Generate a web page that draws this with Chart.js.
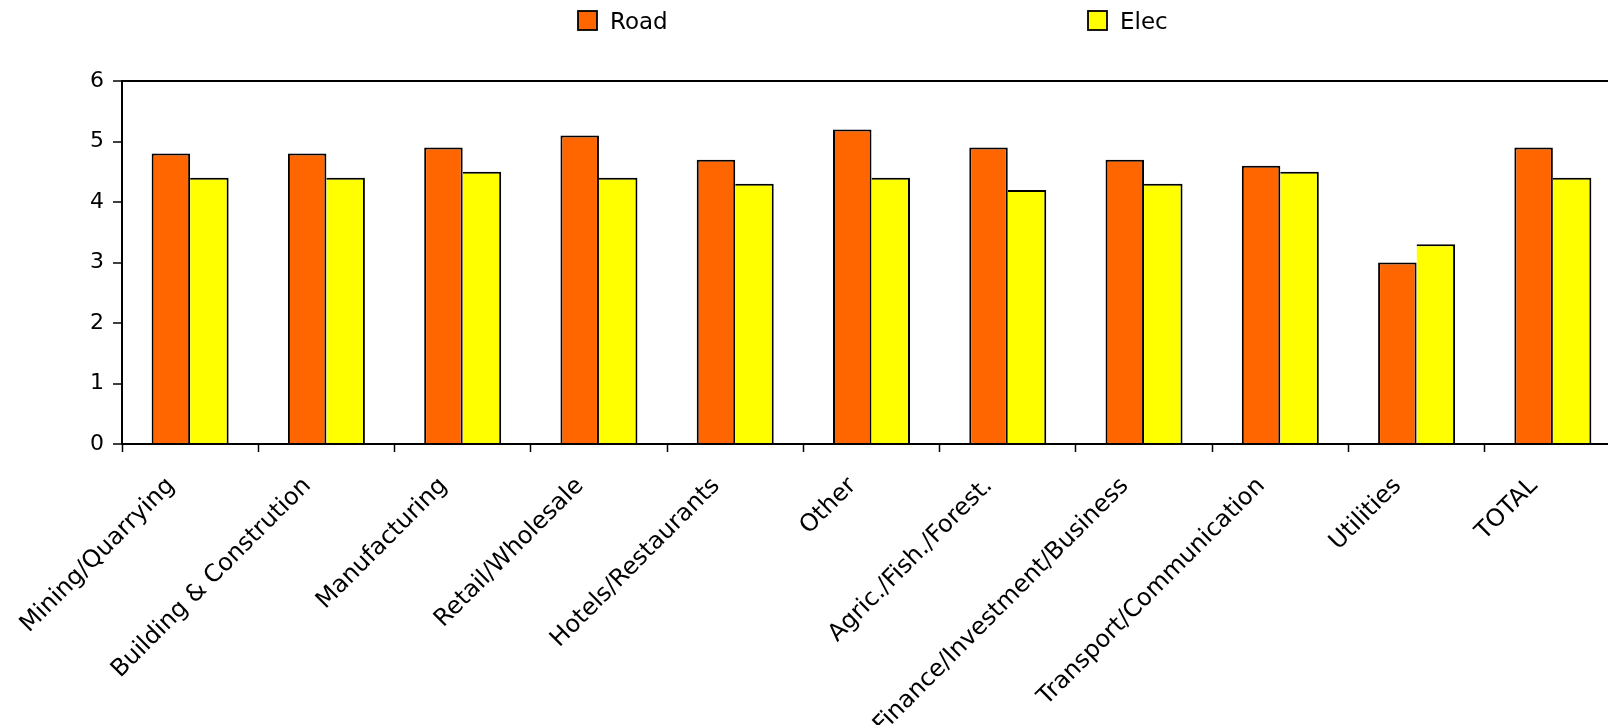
<!DOCTYPE html>
<html>
<head>
<meta charset="utf-8">
<script src="https://cdn.jsdelivr.net/npm/chart.js@4.4.1/dist/chart.umd.min.js"></script>
<style>
  html, body { margin: 0; padding: 0; background: #fff; overflow: hidden; }
  #wrap { width: 1621px; height: 725px; }
</style>
</head>
<body>
<div id="wrap"><canvas id="barChart"></canvas></div>
<script>
// Sector labels and the two series
var sectors = ["Mining/Quarrying", "Building & Constrution", "Manufacturing", "Retail/Wholesale",
    "Hotels/Restaurants", "Other", "Agric./Fish./Forest.", "Finance/Investment/Business",
    "Transport/Communication", "Utilities", "TOTAL"];
var roadData = [4.8, 4.8, 4.9, 5.1, 4.7, 5.2, 4.9, 4.7, 4.6, 3.0, 4.9];
var elecData = [4.4, 4.4, 4.5, 4.4, 4.3, 4.4, 4.2, 4.3, 4.5, 3.3, 4.4];
var yTicks = [0, 1, 2, 3, 4, 5, 6];

var fontName = "'DejaVu Sans', sans-serif";

// legend drawn by hand, items spread wide like the original
var legendPlugin = {
    id: 'wideLegend',
    afterDraw: function (chart) {
        var ctx = chart.ctx;
        var spots = [578, 1088];
        ctx.save();
        ctx.font = "23px " + fontName;
        ctx.textBaseline = "alphabetic";
        chart.data.datasets.forEach(function (ds, i) {
            var x = spots[i];
            ctx.fillStyle = ds.backgroundColor;
            ctx.fillRect(x, 11, 19, 19);
            ctx.strokeStyle = "#000";
            ctx.lineWidth = 1.8;
            ctx.strokeRect(x, 11, 19, 19);
            ctx.fillStyle = "#000";
            ctx.fillText(ds.label, x + 32, 29);
        });
        ctx.restore();
    }
};

new Chart("barChart", {
    type: "bar",
    data: {
        labels: sectors,
        datasets: [{
            label: "Road",
            data: roadData,
            backgroundColor: "#FF6600",
            borderColor: "#000",
            borderWidth: { left: 2, top: 2, right: 2, bottom: 0 },
            borderSkipped: false
        }, {
            label: "Elec",
            data: elecData,
            backgroundColor: "#FFFF00",
            borderColor: "#000",
            borderWidth: { left: 0, top: 2, right: 2, bottom: 0 },
            borderSkipped: false
        }]
    },
    options: {
        responsive: true,
        maintainAspectRatio: false,
        animation: false,
        layout: { padding: { top: 81, left: 0, right: 0, bottom: 0 } },
        datasets: { bar: { categoryPercentage: 0.565, barPercentage: 1.0 } },
        plugins: {
            legend: { display: false },
            title: { display: false },
            tooltip: { enabled: false }
        },
        scales: {
            x: {
                grid: {
                    offset: true,
                    drawOnChartArea: false,
                    color: "#000",
                    tickColor: "#000",
                    tickLength: 8,
                    tickWidth: 1.5
                },
                border: { display: true, color: "#000", width: 2 },
                ticks: {
                    color: "#000",
                    font: { family: fontName, size: 24 },
                    maxRotation: 45,
                    minRotation: 45,
                    labelOffset: -19,
                    padding: 20,
                    autoSkip: false
                },
                afterFit: function (s) { s.height = 281; }
            },
            y: {
                min: 0,
                max: 6,
                afterBuildTicks: function (s) {
                    s.ticks = yTicks.map(function (v) { return { value: v }; });
                },
                grid: {
                    color: function (c) { return c.tick && c.tick.value === 6 ? "#000" : "transparent"; },
                    lineWidth: 2,
                    tickColor: "#000",
                    tickLength: 9,
                    tickWidth: 1.5
                },
                border: { display: true, color: "#000", width: 2 },
                ticks: {
                    color: "#000",
                    font: { family: fontName, size: 22 },
                    padding: 9
                },
                afterFit: function (s) { s.width = 122; }
            }
        }
    },
    plugins: [legendPlugin]
});
</script>
</body>
</html>
